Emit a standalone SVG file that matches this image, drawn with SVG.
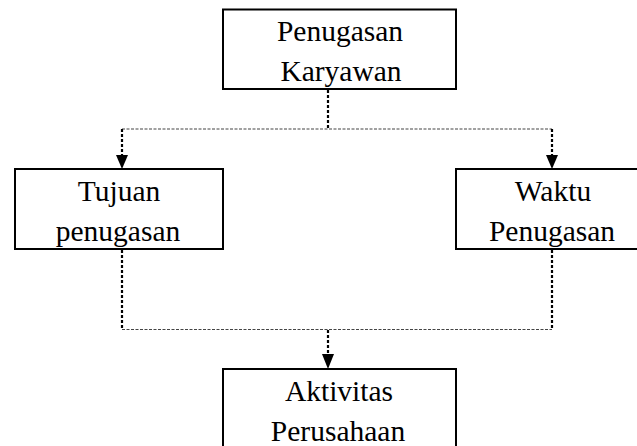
<svg xmlns="http://www.w3.org/2000/svg" width="637" height="446" viewBox="0 0 637 446">
<style>
.box{fill:#fff;stroke:#000;stroke-width:2}
.t{font-family:"Liberation Serif","Times New Roman",serif;font-size:29.5px;fill:#000;text-anchor:middle}
.h{fill:none;stroke:#444;stroke-width:1.2;stroke-dasharray:3 1.5}
.v{fill:none;stroke:#000;stroke-width:2.2;stroke-dasharray:3 2}
</style>
<defs>
<marker id="ah" viewBox="0 0 12 14" refX="6" refY="14" markerWidth="12" markerHeight="14" markerUnits="userSpaceOnUse" orient="auto-start-reverse">
<path d="M0,0 L12,0 L6,14 Z" fill="#000"/>
</marker>
</defs>
<g id="connectors">
<line class="v" x1="328" y1="90" x2="328" y2="128"/>
<polyline class="h" points="122,129 552,129"/>
<line class="v" x1="122" y1="129" x2="122" y2="155"/>
<path d="M116,155 L128,155 L122,169 Z" fill="#000"/>
<line class="v" x1="552" y1="129" x2="552" y2="155"/>
<path d="M546,155 L558,155 L552,169 Z" fill="#000"/>
<line class="v" x1="122" y1="250" x2="122" y2="329"/>
<line class="v" x1="552" y1="250" x2="552" y2="329"/>
<polyline class="h" points="122,329.5 552,329.5"/>
<line class="v" x1="328" y1="330" x2="328" y2="355"/>
<path d="M322,354 L334,354 L328,369 Z" fill="#000"/>
</g>
<g id="node-penugasan-karyawan">
<rect class="box" x="223" y="9.5" width="233" height="79.5"/>
<text class="t" x="340" y="40.5">Penugasan</text>
<text class="t" x="341" y="80.5">Karyawan</text>
</g>
<g id="node-tujuan">
<rect class="box" x="15" y="169" width="208" height="80"/>
<text class="t" x="119" y="200.7">Tujuan</text>
<text class="t" x="118" y="240.7">penugasan</text>
</g>
<g id="node-waktu">
<rect class="box" x="456" y="169" width="194" height="80"/>
<text class="t" x="553" y="200.7">Waktu</text>
<text class="t" x="552" y="240.7">Penugasan</text>
</g>
<g id="node-aktivitas">
<rect class="box" x="223" y="369" width="233" height="90"/>
<text class="t" x="339" y="400.7">Aktivitas</text>
<text class="t" x="338" y="440.7">Perusahaan</text>
</g>
</svg>
